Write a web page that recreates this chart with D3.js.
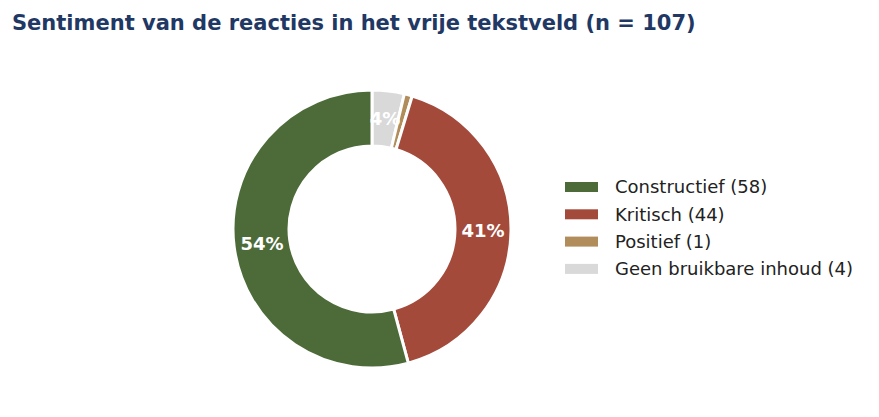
<!DOCTYPE html>
<html><head><meta charset="utf-8">
<script src="https://cdn.jsdelivr.net/npm/d3@7"></script>
<style>body{margin:0;background:#fff}</style>
</head><body>
<svg id="chart" width="879" height="417"></svg>
<script>
// legend order
const categories = ['Constructief', 'Kritisch', 'Positief', 'Geen bruikbare inhoud'];
const counts = [58, 44, 1, 4];
const colors = ['#4d6b39', '#a34a3b', '#b08d5a', '#d9d9d9'];

const svg = d3.select('#chart');
const total = d3.sum(counts);
const cx = 372, cy = 229, rOuter = 139, rInner = 83;

svg.append('text')
    .attr('x', 12).attr('y', 30)
    .attr('font-family', 'DejaVu Sans').attr('font-weight', 'bold')
    .attr('font-size', 21).attr('fill', '#1f3864')
    .text(`Sentiment van de reacties in het vrije tekstveld (n = ${total})`);

// matplotlib draws counter-clockwise from top; reverse for d3's clockwise
const data = categories.map((c, i) => ({name: c, value: counts[i], color: colors[i]})).reverse();
const pie = d3.pie().sort(null).value(d => d.value);
const arc = d3.arc().innerRadius(rInner).outerRadius(rOuter);
const labelArc = d3.arc().innerRadius(111).outerRadius(111);

const g = svg.append('g').attr('transform', `translate(${cx},${cy})`);
const arcs = pie(data);
g.selectAll('path').data(arcs).join('path')
    .attr('d', arc).attr('fill', d => d.data.color)
    .attr('stroke', '#fff').attr('stroke-width', 3);

g.selectAll('text').data(arcs.filter(d => d.data.value / total >= 0.02)).join('text')
    .attr('transform', d => `translate(${labelArc.centroid(d)})`)
    .attr('text-anchor', 'middle').attr('dy', '0.35em')
    .attr('font-family', 'DejaVu Sans').attr('font-weight', 'bold')
    .attr('font-size', 18).attr('fill', '#fff')
    .text(d => `${Math.round(d.data.value / total * 100)}%`);

const legend = svg.append('g').attr('transform', 'translate(565,187)');
categories.forEach((c, i) => {
    const row = legend.append('g').attr('transform', `translate(0,${i * 27.3})`);
    row.append('rect').attr('x', 0).attr('y', -5).attr('width', 33).attr('height', 10).attr('fill', colors[i]);
    row.append('text').attr('x', 50).attr('dy', '0.35em')
        .attr('font-family', 'DejaVu Sans').attr('font-size', 18).attr('fill', '#222')
        .text(`${c} (${counts[i]})`);
});
</script>
</body></html>
